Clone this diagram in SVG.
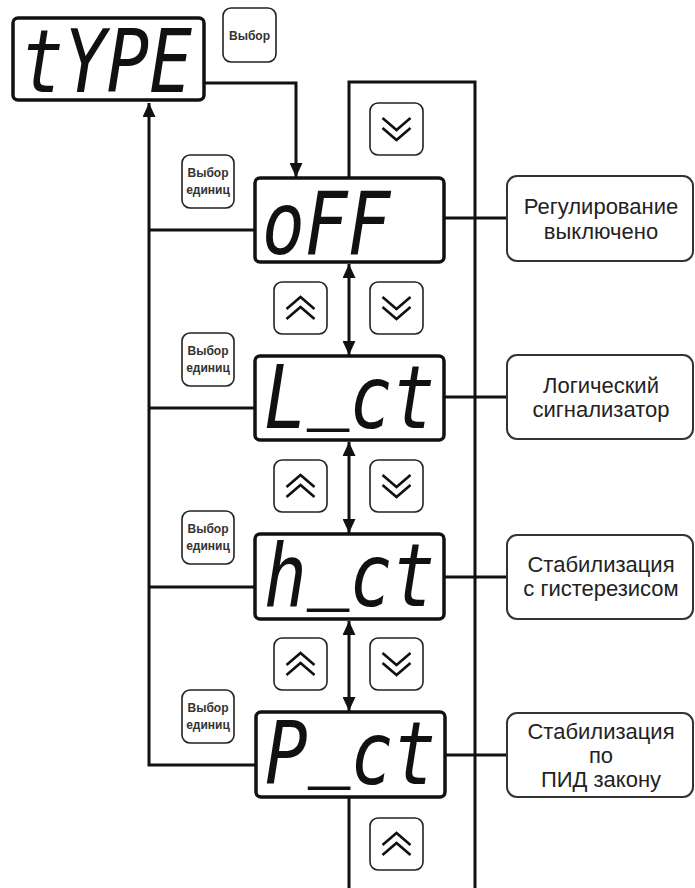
<svg xmlns="http://www.w3.org/2000/svg" xmlns:xlink="http://www.w3.org/1999/xlink" width="695" height="888" viewBox="0 0 695 888">
<style>
.disp{fill:#fff;stroke:#111;stroke-width:3.5}
.seg{font-family:"DejaVu Sans Mono",monospace;font-style:italic;font-size:71px;fill:#111}
.btn{fill:#fff;stroke:#222;stroke-width:1.6}
.btxt{font-family:"Liberation Sans",Arial,sans-serif;font-weight:bold;font-size:12px;fill:#333;text-anchor:middle}
.box{fill:#fff;stroke:#333;stroke-width:2}
.ltxt{font-family:"Liberation Sans",Arial,sans-serif;font-size:22px;fill:#222;text-anchor:middle}
.chev{fill:none;stroke:#111;stroke-width:2.6}
.con{fill:none;stroke:#111;stroke-width:3}
</style>
<defs>
<marker id="ah" markerUnits="userSpaceOnUse" markerWidth="14" markerHeight="13" refX="14" refY="6.5" orient="auto-start-reverse">
<path d="M0,0 L14,6.5 L0,13 z" fill="#111"/>
</marker>
<g id="down">
<rect class="btn" x="0" y="0" width="53" height="52" rx="8"/>
<path class="chev" d="M12.5,15 L26.5,27 L40.5,15 M12.5,25 L26.5,37 L40.5,25"/>
</g>
<g id="up">
<rect class="btn" x="0" y="0" width="53" height="52" rx="8"/>
<path class="chev" d="M12.5,37 L26.5,25 L40.5,37 M12.5,27 L26.5,15 L40.5,27"/>
</g>
</defs>
<rect width="695" height="888" fill="#fff"/>

<g id="connectors">
<path class="con" d="M204,83 H296 V177" marker-end="url(#ah)"/>
<path class="con" d="M255,765 H149 V103" marker-end="url(#ah)"/>
<path class="con" d="M149,230 H255 M149,408 H255 M149,587 H255"/>
<path class="con" d="M349,264 V355" marker-start="url(#ah)" marker-end="url(#ah)"/>
<path class="con" d="M349,442 V533" marker-start="url(#ah)" marker-end="url(#ah)"/>
<path class="con" d="M349,621 V711" marker-start="url(#ah)" marker-end="url(#ah)"/>
<path class="con" d="M349,178 V82 H475 V888"/>
<path class="con" d="M444,218 H507 M444,397 H507 M444,577 H507 M445,755 H507"/>
<path class="con" d="M349,797 V888"/>
</g>

<g id="disp-type">
<rect class="disp" x="13" y="18" width="191" height="82" rx="5"/>
<text class="seg" transform="translate(21,92) scale(1,1.22)">tYPE</text>
</g>
<g id="disp-off">
<rect class="disp" x="255" y="178" width="189" height="84" rx="5"/>
<text class="seg" transform="translate(262,254) scale(1,1.22)">oFF</text>
</g>
<g id="disp-lct">
<rect class="disp" x="255" y="356" width="189" height="84" rx="5"/>
<text class="seg" transform="translate(264,428) scale(1,1.22)">L<tspan dy="-14">_</tspan><tspan dy="14">ct</tspan></text>
</g>
<g id="disp-hct">
<rect class="disp" x="255" y="534" width="189" height="85" rx="5"/>
<text class="seg" transform="translate(264,606) scale(1,1.22)">h<tspan dy="-12">_</tspan><tspan dy="12">ct</tspan></text>
</g>
<g id="disp-pct">
<rect class="disp" x="256" y="712" width="189" height="85" rx="5"/>
<text class="seg" transform="translate(265,784) scale(1,1.22)">P<tspan dy="-12">_</tspan><tspan dy="12">ct</tspan></text>
</g>

<g id="btn-select">
<rect class="btn" x="223" y="8" width="53" height="54" rx="8"/>
<text class="btxt" x="249.5" y="40">Выбор</text>
</g>
<g id="btn-units-1">
<rect class="btn" x="182" y="155" width="52" height="53" rx="8"/>
<text class="btxt" x="208" y="177">Выбор</text>
<text class="btxt" x="208" y="194">единиц</text>
</g>
<g id="btn-units-2">
<rect class="btn" x="182" y="333" width="52" height="53" rx="8"/>
<text class="btxt" x="208" y="355">Выбор</text>
<text class="btxt" x="208" y="372">единиц</text>
</g>
<g id="btn-units-3">
<rect class="btn" x="182" y="511" width="52" height="53" rx="8"/>
<text class="btxt" x="208" y="533">Выбор</text>
<text class="btxt" x="208" y="550">единиц</text>
</g>
<g id="btn-units-4">
<rect class="btn" x="182" y="690" width="52" height="53" rx="8"/>
<text class="btxt" x="208" y="712">Выбор</text>
<text class="btxt" x="208" y="729">единиц</text>
</g>

<g id="btn-down-top"><use xlink:href="#down" x="370" y="103"/></g>
<g id="btn-up-1"><use xlink:href="#up" x="274" y="282"/></g>
<g id="btn-down-1"><use xlink:href="#down" x="370" y="282"/></g>
<g id="btn-up-2"><use xlink:href="#up" x="274" y="460"/></g>
<g id="btn-down-2"><use xlink:href="#down" x="370" y="460"/></g>
<g id="btn-up-3"><use xlink:href="#up" x="274" y="638"/></g>
<g id="btn-down-3"><use xlink:href="#down" x="370" y="638"/></g>
<g id="btn-up-bottom"><use xlink:href="#up" x="370" y="818"/></g>

<g id="label-off">
<rect class="box" x="507" y="176" width="186" height="85" rx="10"/>
<text class="ltxt" x="601" y="214">Регулирование</text>
<text class="ltxt" x="601" y="239">выключено</text>
</g>
<g id="label-lct">
<rect class="box" x="507" y="355" width="186" height="84" rx="10"/>
<text class="ltxt" x="601" y="393">Логический</text>
<text class="ltxt" x="601" y="417">сигнализатор</text>
</g>
<g id="label-hct">
<rect class="box" x="507" y="535" width="186" height="84" rx="10"/>
<text class="ltxt" x="601" y="572">Стабилизация</text>
<text class="ltxt" x="601" y="596">с гистерезисом</text>
</g>
<g id="label-pct">
<rect class="box" x="507" y="713" width="186" height="84" rx="10"/>
<text class="ltxt" x="601" y="739">Стабилизация</text>
<text class="ltxt" x="601" y="763">по</text>
<text class="ltxt" x="601" y="787">ПИД закону</text>
</g>
</svg>
